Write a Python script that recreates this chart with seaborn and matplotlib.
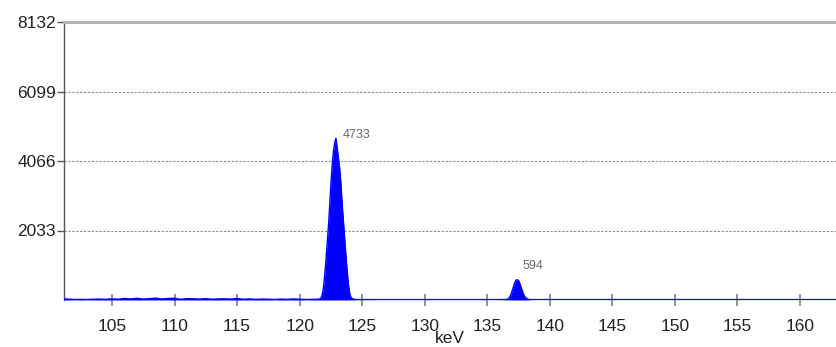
import numpy as np
import pandas as pd
import matplotlib
matplotlib.use("Agg")
import matplotlib.pyplot as plt
import seaborn as sns

# ---- data ----
bg1_kev = [101.2, 101.6, 102.0, 102.5, 103.0, 103.5, 104.0, 104.5, 105.0, 105.5, 106.0, 106.5,
           107.0, 107.5, 108.0, 108.5, 109.0, 109.5, 110.0, 110.5, 111.0, 111.5, 112.0, 112.5,
           113.0, 113.5, 114.0, 114.5, 115.0, 115.5, 116.0, 116.5, 117.0, 117.5, 118.0, 118.5,
           119.0, 119.5, 120.0, 120.5, 121.0, 121.5]
bg1_counts = [30, 20, 10, 15, 10, 20, 25, 15, 35, 20, 45, 30, 50, 25, 40, 55, 30, 45, 50, 20,
              40, 35, 25, 40, 20, 30, 35, 25, 45, 20, 30, 15, 25, 20, 10, 25, 15, 30, 20, 10, 15, 20]
peak1_kev = [121.6, 121.7, 121.8, 121.9, 122.0, 122.1, 122.2, 122.3, 122.4, 122.5, 122.6, 122.7,
             122.8, 122.9, 123.0, 123.1, 123.2, 123.3, 123.4, 123.5, 123.6, 123.7, 123.8, 123.9,
             124.0, 124.1, 124.2]
peak1_counts = [30, 60, 150, 350, 700, 1150, 1650, 2150, 2750, 3400, 3950, 4350, 4600, 4733,
                4450, 4150, 3850, 3400, 2800, 2300, 1800, 1300, 850, 450, 200, 80, 40]
bg2_kev = [124.4, 126.0, 128.0, 130.0, 132.0, 134.0, 136.0, 136.4]
bg2_counts = [10, 5, 5, 5, 5, 5, 5, 10]
peak2_kev = [136.6, 136.7, 136.8, 136.9, 137.0, 137.1, 137.2, 137.3, 137.4, 137.5, 137.6, 137.7,
             137.8, 137.9, 138.0, 138.1, 138.2, 138.3]
peak2_counts = [20, 40, 90, 170, 280, 400, 510, 580, 594, 570, 490, 380, 270, 170, 100, 55, 30, 15]
bg3_kev = [138.5, 140.0, 145.0, 150.0, 155.0, 160.0, 163.0]
bg3_counts = [5, 3, 3, 3, 3, 3, 3]

y_ticks = [2033, 4066, 6099, 8132]
x_ticks = [105, 110, 115, 120, 125, 130, 135, 140, 145, 150, 155, 160]
peak_kev = [122.9, 137.4]
peak_counts = [4733, 594]
peak_text = ["4733", "594"]

df = pd.DataFrame({
    "keV": bg1_kev + peak1_kev + bg2_kev + peak2_kev + bg3_kev,
    "counts": bg1_counts + peak1_counts + bg2_counts + peak2_counts + bg3_counts,
})

sns.set_style("white")
plt.rcParams["font.family"] = ["Liberation Sans", "DejaVu Sans"]

fig = plt.figure(figsize=(8.36, 3.47), dpi=100)
ax = fig.add_axes([64 / 836, 1 - 300 / 347, 1 - 64 / 836, (300 - 22) / 347])

blue = "#0000ff"
ax.fill_between(df["keV"], 0, df["counts"], color=blue, linewidth=0, zorder=3)
sns.lineplot(data=df, x="keV", y="counts", ax=ax, color=blue, linewidth=1.0, zorder=4)
ax.axhline(0, color=blue, linewidth=1.6, zorder=4)

ax.set_xlim(101.16, 162.88)
ax.set_ylim(0, 8132)

ax.set_yticks(y_ticks)
ax.set_yticklabels([str(v) for v in y_ticks])
ax.set_xticks(x_ticks)
ax.set_xticklabels([str(v) for v in x_ticks])

for v in y_ticks[:-1]:
    ax.axhline(v, color="#8a8a8a", linestyle=(0, (2, 1.5)), linewidth=0.8, zorder=1)

ax.tick_params(axis="x", bottom=True, direction="inout", length=9, width=1.3, color="#8a8a8a",
               labelsize=12.5, pad=9, labelcolor="#222222", zorder=5)
ax.tick_params(axis="y", left=True, direction="out", length=5, width=1, color="#555555",
               labelsize=12.5, pad=1, labelcolor="#222222")

for s in ["right", "bottom"]:
    ax.spines[s].set_visible(False)
ax.spines["left"].set_color("#555555")
ax.spines["left"].set_linewidth(1)
ax.spines["top"].set_color("#b4b4b4")
ax.spines["top"].set_linewidth(2.2)

ax.set_xlabel("keV", fontsize=12.5, color="#222222", labelpad=-2)
ax.set_ylabel("")

offsets = [(5, 2), (3.5, 10)]
for x, y, t, off in zip(peak_kev, peak_counts, peak_text, offsets):
    ax.annotate(t, (x, y), xytext=off, textcoords="offset points", fontsize=9,
                color="#666666", va="center", ha="left")

fig.savefig("out.png", dpi=100)
